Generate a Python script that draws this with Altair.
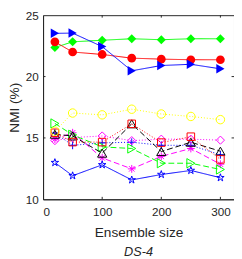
import altair as alt
import pandas as pd

ensemble_sizes = [20, 50, 100, 150, 200, 250, 300]
s_tri_blue = [23.52, 23.54, 22.44, 20.47, 20.90, 21.00, 20.63]
s_diamond_green = [22.37, 22.83, 22.96, 23.08, 23.00, 23.08, 23.08]
s_circle_red = [22.83, 22.00, 21.80, 21.50, 21.42, 21.37, 21.37]
s_circle_yellow = [15.55, 17.03, 16.88, 17.34, 16.95, 16.75, 16.49]
s_square_red = [15.42, 14.66, 14.66, 16.15, 14.62, 15.10, 13.25]
s_triangle_black = [15.30, 15.16, 13.76, 16.15, 13.89, 14.65, 13.92]
s_tri_green = [16.18, 15.25, 14.27, 14.14, 12.94, 12.94, 12.43]
s_asterisk_magenta = [14.90, 15.42, 13.37, 12.48, 13.50, 14.14, 12.86]
s_diamond_magenta = [14.78, 15.03, 15.16, 14.78, 14.90, 14.90, 14.82]
s_plus_blue = [15.40, 14.40, 14.60, 14.65, 14.40, 14.40, 13.63]
s_star_blue = [12.99, 11.92, 12.81, 11.58, 12.02, 12.35, 11.76]

x_ticks = [0, 100, 200, 300]
y_ticks = [10, 15, 20, 25]

STAR = ("M0,-1L0.223,-0.307L0.951,-0.309L0.361,0.117L0.588,0.809L0,0.38"
        "L-0.588,0.809L-0.361,0.117L-0.951,-0.309L-0.223,-0.307Z")
PLUS = "M-1,0H1M0,-1V1"
ASTER = "M-1,0H1M0,-1V1M-0.7,-0.7L0.7,0.7M-0.7,0.7L0.7,-0.7"

series = [
    (s_plus_blue, "#0000FF", [1, 2], PLUS, False, 65),
    (s_diamond_magenta, "#FF00FF", [1, 2], "diamond", False, 70),
    (s_asterisk_magenta, "#FF00FF", [6, 3], ASTER, False, 65),
    (s_tri_green, "#00FF00", [6, 3], "triangle-right", False, 90),
    (s_triangle_black, "#000000", [6, 3], "triangle-up", False, 90),
    (s_square_red, "#FF0000", [1, 2], "square", False, 60),
    (s_circle_yellow, "#FFFF00", [1, 2], "circle", False, 75),
    (s_star_blue, "#0000FF", [], STAR, False, 65),
    (s_diamond_green, "#00FF00", [], "diamond", True, 85),
    (s_circle_red, "#FF0000", [], "circle", True, 80),
    (s_tri_blue, "#0000FF", [], "triangle-right", True, 95),
]

W, H = 196, 189
xs = alt.Scale(domain=[0, 323], nice=False)
ys = alt.Scale(domain=[10, 25], nice=False)
FONT = "Liberation Sans"
TXT = "#262626"

layers = []
for vals, col, dash, shape, filled, size in series:
    df = pd.DataFrame({"x": ensemble_sizes, "y": vals})
    base = alt.Chart(df)
    lm = base.mark_line(color=col, strokeWidth=1, strokeDash=dash if dash else [1, 0])
    layers.append(lm.encode(
        x=alt.X("x:Q", scale=xs, axis=alt.Axis(values=x_ticks, title="Ensemble size", ticks=False,
                                                grid=False, labelPadding=8, titlePadding=8,
                                                domainColor=TXT)),
        y=alt.Y("y:Q", scale=ys, axis=alt.Axis(values=y_ticks, title="NMI (%)", ticks=False,
                                                grid=False, labelPadding=5, titlePadding=4,
                                                domainColor=TXT)),
    ))
    if filled:
        pm = base.mark_point(shape=shape, filled=True, fill=col, color=col, size=size, opacity=1,
                             strokeWidth=1)
    else:
        pm = base.mark_point(shape=shape, filled=False, color=col, size=size, opacity=1,
                             strokeWidth=1)
    layers.append(pm.encode(x=alt.X("x:Q", scale=xs), y=alt.Y("y:Q", scale=ys)))

# inward tick marks on all four sides
xt = pd.DataFrame({"x": [100, 200, 300]})
yt = pd.DataFrame({"y": [15, 20]})
TL = 2.5
layers.append(alt.Chart(xt).mark_rule(color=TXT, strokeWidth=1).encode(
    x=alt.X("x:Q", scale=xs), y=alt.value(H), y2=alt.value(H - TL)))
layers.append(alt.Chart(xt).mark_rule(color=TXT, strokeWidth=1).encode(
    x=alt.X("x:Q", scale=xs), y=alt.value(0), y2=alt.value(TL)))
layers.append(alt.Chart(yt).mark_rule(color=TXT, strokeWidth=1).encode(
    y=alt.Y("y:Q", scale=ys), x=alt.value(0), x2=alt.value(TL)))
layers.append(alt.Chart(yt).mark_rule(color=TXT, strokeWidth=1).encode(
    y=alt.Y("y:Q", scale=ys), x=alt.value(W), x2=alt.value(W - TL)))

chart = alt.layer(*layers).properties(
    width=W, height=H,
    background="white",
    autosize=alt.AutoSizeParams(type="none"),
    padding={"left": 36, "top": 4, "right": 0, "bottom": 62},
    title=alt.TitleParams("DS-4", orient="bottom", anchor="middle", fontStyle="italic",
                          fontWeight="normal", font=FONT, fontSize=13, color=TXT, offset=7),
).configure_view(stroke=TXT, strokeWidth=1).configure_axis(
    labelFont=FONT, titleFont=FONT, labelFontSize=12, titleFontSize=14,
    labelColor=TXT, titleColor=TXT, titleFontWeight="normal",
)

chart.save("out.html", embed_options={"renderer": "svg", "actions": False})
